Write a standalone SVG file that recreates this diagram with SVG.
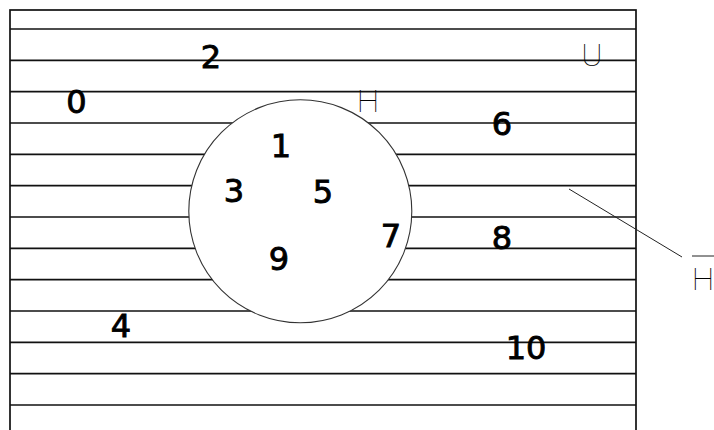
<svg xmlns="http://www.w3.org/2000/svg" width="714" height="430" viewBox="0 0 714 430">
<style>
.hl{stroke:#111;stroke-width:1.7}
.fr{fill:none;stroke:#111;stroke-width:1.7}
.num{font-family:"DejaVu Sans",sans-serif;font-size:32px;fill:#000;stroke:#000;stroke-width:0.9;text-anchor:middle}
.thin{font-family:Roboto,"Liberation Sans",sans-serif;font-weight:100;font-size:32px;fill:#000;text-anchor:middle}
.lead{stroke:#222;stroke-width:1;fill:none}
</style>
<rect width="714" height="430" fill="#fff"/>
<g id="universe">
<rect class="fr" x="10" y="10" width="626" height="440"/>
<g id="hatch">
<line class="hl" x1="10" y1="29" x2="636" y2="29"/>
<line class="hl" x1="10" y1="60.3" x2="636" y2="60.3"/>
<line class="hl" x1="10" y1="91.7" x2="636" y2="91.7"/>
<line class="hl" x1="10" y1="123" x2="636" y2="123"/>
<line class="hl" x1="10" y1="154.3" x2="636" y2="154.3"/>
<line class="hl" x1="10" y1="185.7" x2="636" y2="185.7"/>
<line class="hl" x1="10" y1="217" x2="636" y2="217"/>
<line class="hl" x1="10" y1="248.3" x2="636" y2="248.3"/>
<line class="hl" x1="10" y1="279.7" x2="636" y2="279.7"/>
<line class="hl" x1="10" y1="311" x2="636" y2="311"/>
<line class="hl" x1="10" y1="342.3" x2="636" y2="342.3"/>
<line class="hl" x1="10" y1="373.7" x2="636" y2="373.7"/>
<line class="hl" x1="10" y1="405" x2="636" y2="405"/>
</g>
</g>
<g id="setH">
<circle cx="300.3" cy="211.3" r="111.5" fill="#fff" stroke="#333" stroke-width="1.1"/>
</g>
<g id="connectors">
<line class="lead" x1="569" y1="189" x2="682" y2="257"/>
</g>
<g id="labels">
<text class="num" x="76.5" y="113">0</text>
<text class="num" x="211" y="68">2</text>
<text class="num" x="281" y="157">1</text>
<text class="num" x="234" y="202">3</text>
<text class="num" x="323" y="203">5</text>
<text class="num" x="391" y="247">7</text>
<text class="num" x="279" y="270">9</text>
<text class="num" x="502" y="135">6</text>
<text class="num" x="502" y="249">8</text>
<text class="num" x="121" y="337">4</text>
<text class="num" x="526" y="359">10</text>
<text class="thin" x="368" y="112">H</text>
<text class="thin" x="592" y="66">U</text>
<g id="complementH">
<line x1="692" y1="256" x2="714" y2="256" stroke="#222" stroke-width="1"/>
<text class="thin" x="703" y="290">H</text>
</g>
</g>
</svg>
